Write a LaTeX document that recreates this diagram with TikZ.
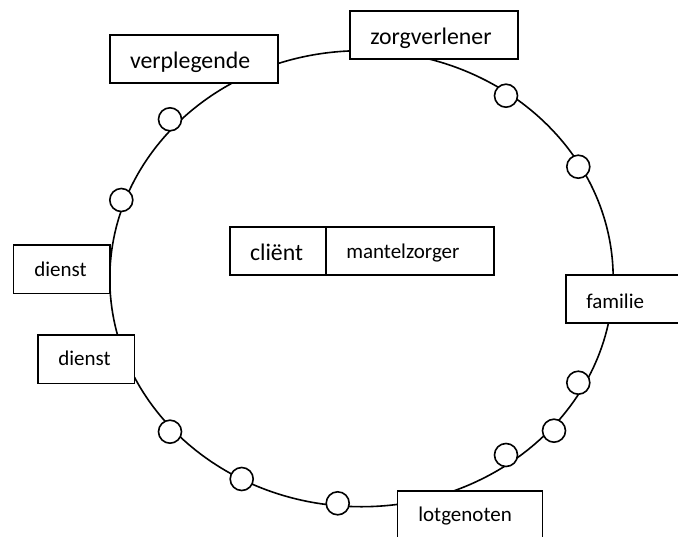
\documentclass[tikz,border=0pt]{standalone}
\usepackage{fontspec}
\setmainfont{Carlito}
\begin{document}
\begin{tikzpicture}[x=1pt,y=-1pt,
  box/.style={draw, fill=white, line width=1.6pt, inner ysep=0pt, text depth=0pt, align=left},
  big/.style={font=\fontsize{23.8}{28}\selectfont},
  small/.style={font=\fontsize{21}{25}\selectfont},
  dot/.style={circle, draw, fill=white, line width=1.6pt, minimum size=23pt, inner sep=0pt}]
\useasboundingbox (0,0) rectangle (678,536);
\clip (0,0) rectangle (678,536);
% ring
\draw[line width=1.6pt] (361.5,278.7) ellipse [x radius=251.7, y radius=228];
% markers on the ring
\node[dot] (m1)  at (170,119.3) {};
\node[dot] (m2)  at (121.3,200) {};
\node[dot] (m3)  at (506,95.7) {};
\node[dot] (m4)  at (578.3,166.7) {};
\node[dot] (m5)  at (170,431.7) {};
\node[dot] (m6)  at (241.7,479) {};
\node[dot] (m7)  at (337.7,503.3) {};
\node[dot] (m8)  at (578.3,382.7) {};
\node[dot] (m9)  at (554,430.7) {};
\node[dot] (m10) at (506,455) {};
% boxes
\node[box, big, minimum width=168pt, minimum height=48pt, inner xsep=20pt, text width=128pt, text height=18.6pt] (verpl) at (194,59) {verplegende};
\node[box, big, minimum width=168pt, minimum height=48pt, inner xsep=20.3pt, text width=127.4pt, text height=18.6pt] (zorg) at (434,35) {zorgverlener};
\node[box, small, minimum width=96.7pt, minimum height=48.3pt, inner xsep=21pt, text width=54.7pt, text height=13.6pt] (dienstA) at (61.7,269.2) {dienst};
\node[box, small, minimum width=96.6pt, minimum height=48.3pt, inner xsep=20.6pt, text width=55.4pt, text height=11.6pt] (dienstB) at (86,359.2) {dienst};
\node[box, big, minimum width=96pt, minimum height=48pt, inner xsep=20pt, text width=56pt, text height=19.4pt] (client) at (278,251) {cliënt};
\node[box, small, minimum width=168pt, minimum height=48pt, inner xsep=20.3pt, text width=127.4pt, text height=14.6pt] (mantel) at (410,251) {mantelzorger};
\node[box, small, minimum width=134.3pt, minimum height=48pt, inner xsep=20.6pt, text width=93.1pt, text height=19pt] (fam) at (632.85,299) {familie};
\node[box, small, minimum width=145.3pt, minimum height=48pt, inner xsep=21pt, text width=103.3pt, text height=13.4pt] (lot) at (470,515) {lotgenoten};
\end{tikzpicture}
\end{document}
